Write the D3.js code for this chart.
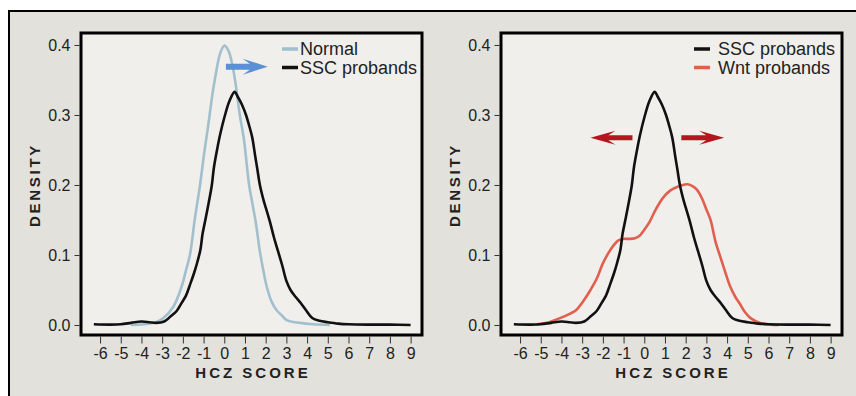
<!DOCTYPE html>
<html>
<head>
<meta charset="utf-8">
<script src="https://cdn.jsdelivr.net/npm/d3@7/dist/d3.min.js"></script>
<style>
  html, body { margin: 0; padding: 0; background: #fff; }
  svg { display: block; font-family: "Liberation Sans", Arial, Helvetica, sans-serif; }
</style>
</head>
<body>
<svg id="chart" width="856" height="396"></svg>
<script>
// ---- data ----
const xTicks = [-6, -5, -4, -3, -2, -1, 0, 1, 2, 3, 4, 5, 6, 7, 8, 9];
const yTicks = [0.0, 0.1, 0.2, 0.3, 0.4];

// [HCZ score, density]
const sscProbands = [
  [-6.3, 0.001], [-5.5, 0.0005], [-5.0, 0.001], [-4.5, 0.003], [-4.0, 0.005],
  [-3.6, 0.004], [-3.3, 0.003], [-2.9, 0.005], [-2.6, 0.012], [-2.3, 0.02],
  [-2.05, 0.032], [-1.85, 0.042], [-1.65, 0.058], [-1.45, 0.075], [-1.3, 0.09],
  [-1.15, 0.108], [-1.05, 0.13], [-0.9, 0.152], [-0.75, 0.175], [-0.6, 0.2],
  [-0.5, 0.225], [-0.35, 0.25], [-0.2, 0.272], [0.0, 0.296], [0.25, 0.32],
  [0.5, 0.333], [0.65, 0.326], [0.85, 0.315], [1.05, 0.3], [1.2, 0.285],
  [1.35, 0.268], [1.5, 0.24], [1.6, 0.222], [1.72, 0.2], [1.9, 0.178],
  [2.0, 0.168], [2.2, 0.148], [2.4, 0.125], [2.6, 0.105], [2.8, 0.085],
  [3.0, 0.063], [3.2, 0.05], [3.45, 0.04], [3.7, 0.031], [3.95, 0.021],
  [4.25, 0.01], [4.6, 0.006], [5.0, 0.004], [5.5, 0.002], [6.0, 0.001],
  [7.0, 0.0005], [8.0, 0.0005], [9.0, 0.0]
];

const normalScores = [
  [-4.5, 0.0], [-3.9, 0.001], [-3.3, 0.004], [-2.95, 0.0095], [-2.46, 0.026],
  [-2.06, 0.055], [-1.85, 0.078], [-1.66, 0.1], [-1.42, 0.152], [-1.17, 0.2],
  [-0.95, 0.25], [-0.8, 0.28], [-0.56, 0.332], [-0.4, 0.36], [-0.2, 0.388],
  [0.0, 0.399], [0.2, 0.392], [0.4, 0.37], [0.56, 0.342], [0.75, 0.3],
  [0.95, 0.265], [1.2, 0.2], [1.38, 0.17], [1.53, 0.145], [1.72, 0.105],
  [1.88, 0.079], [2.05, 0.055], [2.29, 0.033], [2.53, 0.021], [2.77, 0.014],
  [3.01, 0.007], [3.66, 0.003], [4.3, 0.001], [5.1, 0.0]
];

const wntProbands = [
  [-5.2, 0.001], [-4.6, 0.004], [-4.1, 0.0095], [-3.6, 0.016], [-3.3, 0.021],
  [-2.9, 0.036], [-2.6, 0.05], [-2.3, 0.066], [-2.0, 0.088], [-1.75, 0.102],
  [-1.5, 0.113], [-1.25, 0.121], [-1.0, 0.123], [-0.72, 0.123], [-0.45, 0.124],
  [-0.24, 0.127], [0.0, 0.136], [0.25, 0.147], [0.5, 0.162], [0.75, 0.175],
  [1.0, 0.185], [1.25, 0.192], [1.5, 0.196], [1.75, 0.199], [2.1, 0.201],
  [2.35, 0.198], [2.55, 0.193], [2.8, 0.18], [3.0, 0.165], [3.2, 0.15],
  [3.45, 0.118], [3.7, 0.095], [3.95, 0.072], [4.15, 0.055], [4.4, 0.04],
  [4.6, 0.031], [4.85, 0.019], [5.15, 0.0095], [5.6, 0.003], [6.1, 0.0005],
  [6.5, 0.0]
];

const legendLeft = ["Normal", "SSC probands"];
const legendRight = ["SSC probands", "Wnt probands"];

// arrows: [from score, to score, density level]
const arrowsLeft = [[0.08, 2.1, 0.369]];
const arrowsRight = [[-0.57, -2.6, 0.2675], [1.79, 3.86, 0.2675]];

// ---- styling ----
const colNormal = "#a2bfcd";
const colSSC = "#111";
const colWnt = "#e0604f";
const colBlueArrow = "#5b8fd6";
const colRedArrow = "#b4161d";

const svg = d3.select("#chart");

// outer frame (runs off the right and bottom of the picture)
svg.append("rect")
  .attr("x", 9).attr("y", 11)
  .attr("width", 900).attr("height", 500)
  .attr("fill", "#e3e1db")
  .attr("stroke", "#000")
  .attr("stroke-width", 2);

const panels = [
  {
    left: 81, right: 422,
    series: [
      { data: normalScores, color: colNormal },
      { data: sscProbands, color: colSSC }
    ],
    legend: legendLeft, legendColors: [colNormal, colSSC],
    legendLine: [282, 298], legendText: 300,
    arrows: arrowsLeft, arrowColor: colBlueArrow,
    arrowShaft: 3, arrowHead: 8
  },
  {
    left: 501, right: 842,
    series: [
      { data: wntProbands, color: colWnt },
      { data: sscProbands, color: colSSC }
    ],
    legend: legendRight, legendColors: [colSSC, colWnt],
    legendLine: [694, 710], legendText: 718,
    arrows: arrowsRight, arrowColor: colRedArrow,
    arrowShaft: 2.5, arrowHead: 7
  }
];

const plotTop = 33, plotBottom = 335;

panels.forEach(p => {
  const x = d3.scaleLinear().domain([-6.92, 9.55]).range([p.left, p.right]);
  const y = d3.scaleLinear().domain([-0.0143, 0.4171]).range([plotBottom, plotTop]);
  const g = svg.append("g");

  g.append("rect")
    .attr("x", p.left).attr("y", plotTop)
    .attr("width", p.right - p.left).attr("height", plotBottom - plotTop)
    .attr("fill", "#f0efeb");

  // curves
  const line = d3.line()
    .x(d => x(d[0]))
    .y(d => y(d[1]))
    .curve(d3.curveCatmullRom.alpha(0.5));

  p.series.forEach(s => {
    g.append("path")
      .datum(s.data)
      .attr("d", line)
      .attr("fill", "none")
      .attr("stroke", s.color)
      .attr("stroke-width", 2.6)
      .attr("stroke-linejoin", "round");
  });

  // arrows
  p.arrows.forEach(a => {
    const x0 = x(a[0]), x1 = x(a[1]), yy = y(a[2]);
    const dir = Math.sign(x1 - x0);
    const L = 25, s = p.arrowShaft, H = p.arrowHead;
    const xBack = x1 - dir * L, xNotch = x1 - dir * (L - 7);
    const path = d3.path();
    path.moveTo(x0, yy - s);
    path.lineTo(xNotch, yy - s);
    path.lineTo(xBack, yy - H);
    path.lineTo(x1, yy);
    path.lineTo(xBack, yy + H);
    path.lineTo(xNotch, yy + s);
    path.lineTo(x0, yy + s);
    path.closePath();
    g.append("path").attr("d", path.toString()).attr("fill", p.arrowColor);
  });

  // frame around plot area
  g.append("rect")
    .attr("x", p.left).attr("y", plotTop)
    .attr("width", p.right - p.left).attr("height", plotBottom - plotTop)
    .attr("fill", "none")
    .attr("stroke", "#000")
    .attr("stroke-width", 3);

  // axes (plain hyphen for negatives, like the original)
  const xAxis = g.append("g")
    .attr("transform", `translate(0,${plotBottom + 1.5})`)
    .call(d3.axisBottom(x).tickValues(xTicks).tickSize(7).tickPadding(4).tickFormat(d => String(d)));
  const yAxis = g.append("g")
    .attr("transform", `translate(${p.left - 1.5},0)`)
    .call(d3.axisLeft(y).tickValues(yTicks).tickSize(5).tickPadding(4).tickFormat(d => d.toFixed(1)));

  [xAxis, yAxis].forEach(ax => {
    ax.select(".domain").remove();
    ax.selectAll(".tick line").attr("stroke", "#333").attr("stroke-width", 1);
    ax.selectAll(".tick text")
      .attr("fill", "#222")
      .style("font-size", "16px")
      .style("font-family", "'Liberation Sans', Arial, sans-serif");
  });

  // axis titles
  g.append("text")
    .attr("x", (p.left + p.right) / 2 + 1.5)
    .attr("y", 378)
    .attr("text-anchor", "middle")
    .style("font-size", "15px")
    .style("font-weight", "bold")
    .style("letter-spacing", "3px")
    .attr("fill", "#222")
    .text("HCZ SCORE");

  g.append("text")
    .attr("transform", `translate(${p.left - 41},185) rotate(-90)`)
    .attr("text-anchor", "middle")
    .style("font-size", "15px")
    .style("font-weight", "bold")
    .style("letter-spacing", "2.7px")
    .attr("fill", "#222")
    .text("DENSITY");

  // legend
  p.legend.forEach((label, i) => {
    const ly = 49 + i * 18.5;
    g.append("line")
      .attr("x1", p.legendLine[0]).attr("x2", p.legendLine[1])
      .attr("y1", ly).attr("y2", ly)
      .attr("stroke", p.legendColors[i])
      .attr("stroke-width", 3.5);
    g.append("text")
      .attr("x", p.legendText)
      .attr("y", ly + 6)
      .style("font-size", "18px")
      .attr("fill", "#222")
      .text(label);
  });
});
</script>
</body>
</html>
